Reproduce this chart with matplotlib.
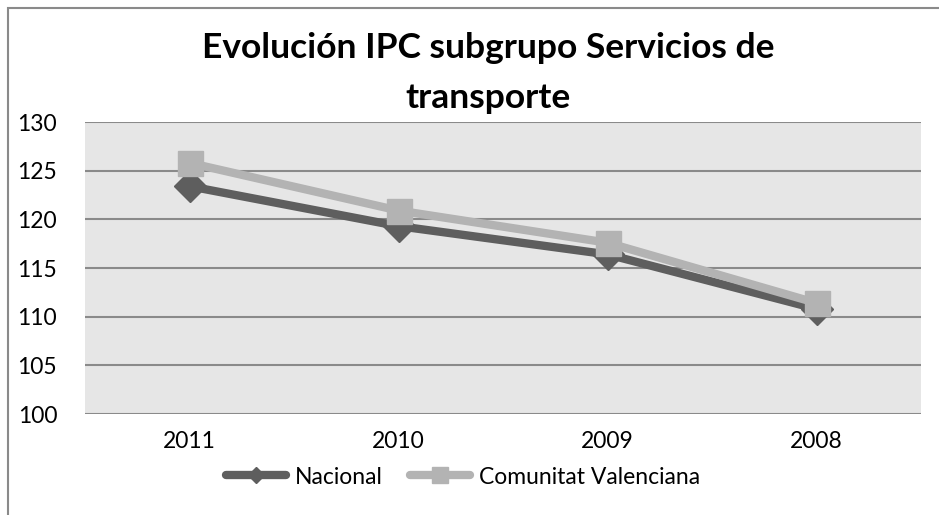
import matplotlib.pyplot as plt
from matplotlib.patches import Rectangle
from matplotlib.lines import Line2D

years = ["2011", "2010", "2009", "2008"]
nacional = [123.4, 119.3, 116.4, 110.8]
comunitat = [125.8, 120.9, 117.6, 111.4]
yticks = [100, 105, 110, 115, 120, 125, 130]

plt.rcParams['font.family'] = ['Lato', 'DejaVu Sans']

W, H = 939, 515
fig = plt.figure(figsize=(W / 100, H / 100), dpi=100)
ax = fig.add_axes([85 / W, 1 - 414 / H, (921 - 85) / W, (414 - 122) / H])
ax.set_facecolor("#e6e6e6")

dark, light = "#5e5e5e", "#b3b3b3"
x = list(range(len(years)))
ax.plot(x, nacional, color=dark, lw=6, marker="D", ms=16,
        solid_capstyle="round", zorder=3)
ax.plot(x, comunitat, color=light, lw=6, marker="s", ms=18,
        solid_capstyle="round", zorder=4)

ax.set_xlim(-0.5, len(years) - 0.5)
ax.set_ylim(100, 130)
ax.set_yticks(yticks)
ax.set_xticks(x)
ax.set_xticklabels(years)
ax.tick_params(length=0, labelsize=16.5, pad=12)
ax.tick_params(axis="y", pad=20)
ax.grid(axis="y", color="#8a8a8a", lw=1.5)
ax.set_axisbelow(True)
for s in ax.spines.values():
    s.set_visible(False)

fig.text(488 / W, 1 - 48 / H, "Evolución IPC subgrupo Servicios de",
         ha="center", va="center", fontsize=25.5, fontweight="bold")
fig.text(488 / W, 1 - 98 / H, "transporte",
         ha="center", va="center", fontsize=25.5, fontweight="bold")

handles = [
    Line2D([], [], color=dark, lw=6, marker="D", ms=8, solid_capstyle="round"),
    Line2D([], [], color=light, lw=6, marker="s", ms=11, solid_capstyle="round"),
]
fig.legend(handles, ["Nacional", "Comunitat Valenciana"], loc="center",
           bbox_to_anchor=(463 / W, 1 - 477 / H), ncol=2, frameon=False,
           fontsize=16.5, handlelength=2.6, columnspacing=1.2,
           handletextpad=0.4)

fig.patches.append(Rectangle((8 / W, -0.1), 1.2, 1 - 8 / H + 0.1,
                             transform=fig.transFigure, fill=False,
                             ec="#8a8a8a", lw=1.5))

fig.savefig("out.png", dpi=100)
